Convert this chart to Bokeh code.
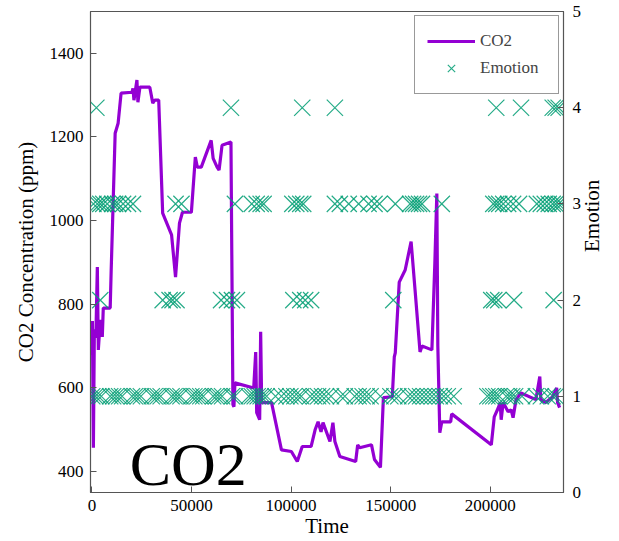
import math
from bokeh.plotting import figure
from bokeh.models import (Range1d, LinearAxis, FixedTicker, Label, Legend,
                          LegendItem, BasicTickFormatter, ColumnDataSource)
from bokeh.embed import file_html
from bokeh.resources import INLINE

# ---- data ----
co2_time = [-500, 0, 250, 750, 1240, 1990, 2730, 3230, 4220, 5220,
            5720, 9190, 9690, 11680, 13170, 13670, 14660, 20130, 20630, 21120,
            22610, 23110, 24100, 29070, 30570, 31560, 33550, 35540, 40010, 42000,
            43980, 45480, 49950, 51940, 52930, 54920, 59890, 60880, 62870, 63860,
            65350, 69830, 70820, 71320, 71820, 81260, 82250, 82750, 84240, 84740,
            85240, 90210, 95180, 100150, 103130, 105620, 110090, 112080, 113570, 115060,
            116050, 119530, 121020, 122010, 124500, 132450, 133450, 134440, 140400, 141890,
            144880, 146370, 150840, 151840, 152330, 154320, 157300, 160280, 162270, 164760,
            165750, 170720, 172210, 173200, 173700, 174690, 175690, 180160, 180660, 200540,
            202030, 204020, 205010, 205510, 206500, 208990, 210480, 211480, 212970, 215460,
            222920, 224900, 225400, 227880, 231370, 233360, 233850, 234840]
co2_ppm = [700, 680, 760, 457, 740, 720, 889, 691, 763, 722,
           791, 791, 882, 1209, 1233, 1257, 1305, 1307, 1316, 1288,
           1336, 1283, 1319, 1319, 1281, 1288, 1288, 1018, 966, 865,
           994, 1020, 1020, 1152, 1128, 1128, 1192, 1149, 1128, 1121,
           1180, 1188, 560, 555, 612, 600, 686, 541, 524, 734,
           565, 565, 452, 448, 424, 460, 460, 500, 519, 495,
           517, 472, 517, 472, 436, 424, 464, 457, 464, 429,
           410, 577, 579, 674, 684, 853, 882, 950, 834, 686,
           700, 691, 900, 1065, 700, 493, 519, 519, 538, 464,
           531, 552, 565, 524, 565, 543, 548, 529, 572, 588,
           572, 627, 572, 565, 579, 600, 565, 553]

emo1_time = [200, 1740, 3230, 4720, 9190, 10690, 12180, 13670, 15160, 20130,
             21620, 23110, 24600, 30070, 31560, 33050, 34540, 40010, 41500, 42990,
             44480, 49950, 51450, 52940, 54430, 55920, 60890, 62380, 63870, 65360,
             70330, 71820, 78780, 80270, 81760, 83250, 84740, 86230, 87720, 92200,
             95180, 97660, 99650, 101640, 103630, 105120, 109600, 111580, 113570, 115560,
             117550, 120030, 125000, 126990, 131960, 133950, 135940, 137930, 139920, 144890,
             149860, 151850, 153840, 158810, 160800, 162790, 164780, 166760, 168750, 170740,
             172730, 174720, 176700, 178690, 181680, 198570, 200060, 201550, 203040, 204540,
             208020, 209510, 211000, 212490, 215970, 222930, 225410, 228890, 231380, 232870]
emo2_time = [4220, 35540, 39010, 40500, 42490, 64860, 67840, 70330, 72810, 101140,
             104620, 107100, 110080, 151330, 200540, 202030, 204020, 211970, 231850]
emo3_time = [750, 2730, 4220, 5720, 7700, 10190, 11680, 13170, 15660, 18140,
             20630, 42000, 44980, 71820, 80270, 82750, 84740, 86230, 100640, 102630,
             104620, 106110, 122010, 124500, 128970, 133950, 138920, 141900, 144390, 152340,
             159800, 161280, 162770, 164260, 165750, 175690, 201550, 203040, 204540, 206520,
             209010, 211490, 214480, 223420, 225410, 227400, 229390, 231380, 232870, 234360,
             235850]
emo4_time = [2240, 69830, 105620, 122010, 203040, 215470, 231380, 232870, 234360]

emo_time = emo1_time + emo2_time + emo3_time + emo4_time
emo_level = ([1] * len(emo1_time) + [2] * len(emo2_time)
             + [3] * len(emo3_time) + [4] * len(emo4_time))

x_ticks = [0, 50000, 100000, 150000, 200000]
y_ticks = [400, 600, 800, 1000, 1200, 1400]
emo_ticks = [0, 1, 2, 3, 4, 5]

FONT = "Liberation Serif"
PURPLE = "#9400D3"
GREEN = "#009E73"
AXC = "#555555"

p = figure(width=619, height=541, output_backend="svg", toolbar_location=None,
           x_range=Range1d(-700, 236800), y_range=Range1d(350, 1500),
           min_border_left=90, min_border_right=51, min_border_top=11,
           min_border_bottom=49)
p.xgrid.visible = False
p.ygrid.visible = False
p.outline_line_color = AXC
p.outline_line_width = 1.2
p.background_fill_color = "white"
p.border_fill_color = "white"

src_co2 = ColumnDataSource(dict(t=co2_time, v=co2_ppm))
src_emo = ColumnDataSource(dict(t=emo_time, v=emo_level))

p.extra_y_ranges = {"emo": Range1d(0, 5)}

r_line = p.line("t", "v", source=src_co2, line_color=PURPLE, line_width=3.2)
r_emo = p.scatter("t", "v", source=src_emo, y_range_name="emo", marker="x",
                  size=23, line_color=GREEN, line_width=1.2, line_alpha=0.85)

right = LinearAxis(y_range_name="emo", axis_label="Emotion")
p.add_layout(right, "right")

for ax in [p.xaxis[0], p.yaxis[0], right]:
    ax.major_label_text_font = FONT
    ax.major_label_text_font_size = "17px"
    ax.major_label_text_color = "black"
    ax.axis_label_text_font = FONT
    ax.axis_label_text_font_size = "21px"
    ax.axis_label_text_font_style = "normal"
    ax.axis_label_text_color = "black"
    ax.axis_line_color = AXC
    ax.major_tick_line_color = AXC
    ax.major_tick_in = 6
    ax.major_tick_out = 0
    ax.minor_tick_line_color = None
    ax.major_label_standoff = 7

p.xaxis[0].ticker = FixedTicker(ticks=x_ticks)
p.xaxis[0].formatter = BasicTickFormatter(use_scientific=False)
p.xaxis[0].axis_label = "Time"
p.xaxis[0].axis_label_standoff = 0
p.xaxis[0].major_label_standoff = 7
p.yaxis[0].ticker = FixedTicker(ticks=y_ticks)
p.yaxis[0].axis_label = "CO2 Concentration (ppm)"
p.yaxis[0].axis_label_standoff = 9
right.ticker = FixedTicker(ticks=emo_ticks)
right.axis_label_standoff = 8
right.major_label_standoff = 9
right.axis_label_orientation = math.pi / 2

legend = Legend(items=[LegendItem(label="CO2", renderers=[r_line]),
                       LegendItem(label="Emotion", renderers=[r_emo])],
                location="top_right")
legend.label_text_font = FONT
legend.label_text_font_size = "17px"
legend.border_line_color = "#333333"
legend.border_line_width = 1
legend.glyph_width = 48
legend.glyph_height = 26
legend.label_width = 66
legend.padding = 12
legend.spacing = 1
legend.margin = 4
legend.background_fill_alpha = 1
p.add_layout(legend)

big = Label(x=19000, y=417, text="CO2", text_font=FONT, text_font_size="62px",
            text_baseline="alphabetic", text_color="black")
p.add_layout(big)

open("out.html", "w").write(file_html(p, INLINE))
